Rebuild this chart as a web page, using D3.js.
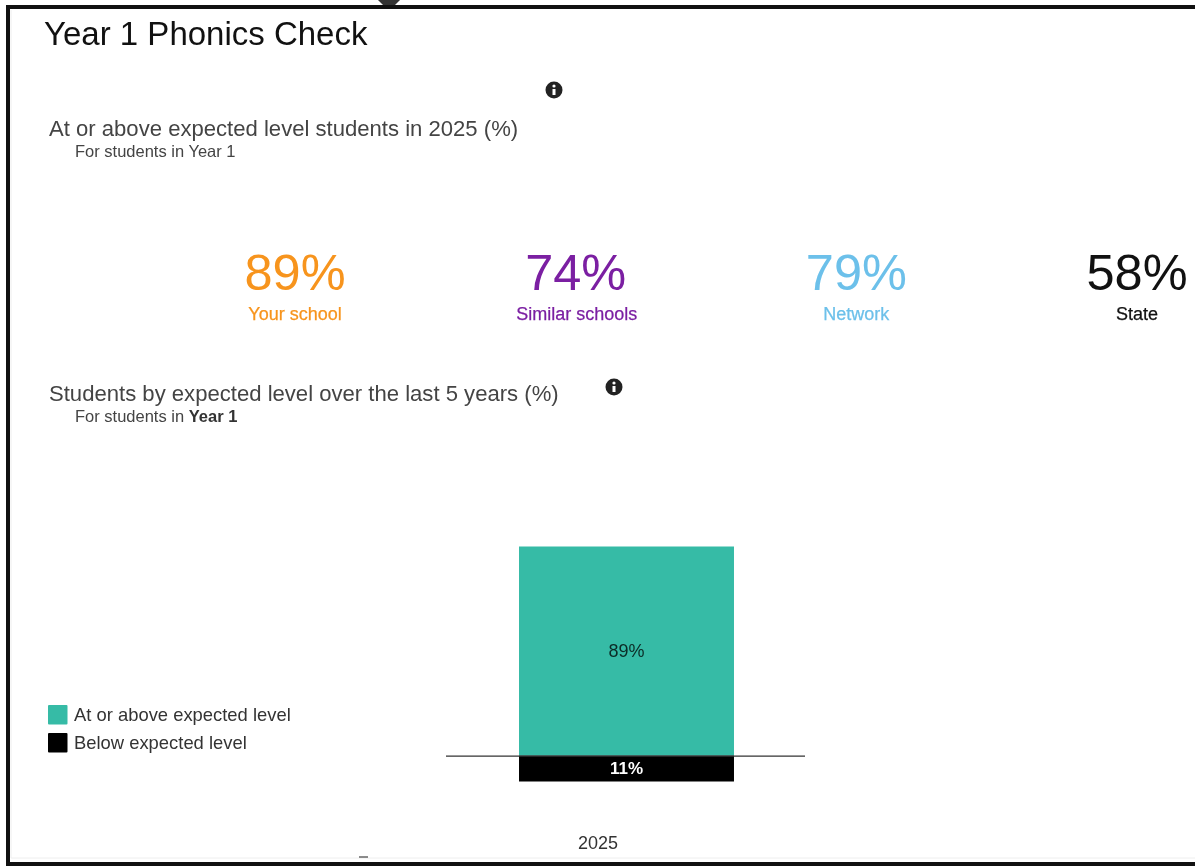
<!DOCTYPE html>
<html><head><meta charset="utf-8">
<script src="https://cdn.jsdelivr.net/npm/d3@7/dist/d3.min.js"></script>
<style>
html,body{margin:0;padding:0;background:#fff;overflow:hidden}
svg{display:block;filter:blur(0.55px)}
text{font-family:"Liberation Sans",Arial,sans-serif}
</style></head><body>
<svg id="chart" width="1195" height="867"></svg>
<script>
const kpiLabels = ["Your school","Similar schools","Network","State"];
const kpiValues = [89,74,79,58];
const kpiColors = ["#f7941d","#7b1fa2","#6cc0ea","#111111"];
const years = ["2025"];
const above = [89];
const below = [11];
const seriesNames = ["At or above expected level","Below expected level"];
const seriesColors = ["#36bba6","#000000"];

const svg = d3.select("#chart");
const txt = (x,y,s,size,fill,anchor="start",weight=null)=>svg.append("text")
  .attr("x",x).attr("y",y).attr("font-size",size).attr("fill",fill)
  .attr("text-anchor",anchor).attr("font-weight",weight).text(s);

// screenshot frame
svg.append("path").attr("d","M1195,7H8V864H1195").attr("fill","none").attr("stroke","#111").attr("stroke-width",4);
svg.append("path").attr("d","M11,10V858H1195").attr("fill","none").attr("stroke","#eee").attr("stroke-width",1);
svg.append("path").attr("d","M378,0 L383,5 L395,5 L400,0Z").attr("fill","#333");
svg.append("path").attr("d","M359,857H368").attr("stroke","#666").attr("stroke-width",1.5);

txt(44,45,"Year 1 Phonics Check",33,"#111");

function infoIcon(cx,cy){
  svg.append("circle").attr("cx",cx).attr("cy",cy).attr("r",8.5).attr("fill","#222");
  svg.append("circle").attr("cx",cx).attr("cy",cy-4).attr("r",1.6).attr("fill","#fff");
  svg.append("rect").attr("x",cx-1.5).attr("y",cy-1).attr("width",3).attr("height",6).attr("fill","#fff");
}
infoIcon(554,90);
infoIcon(614,387);

txt(49,136,"At or above expected level students in 2025 (%)",22.1,"#444");
txt(75,157,"For students in Year 1",16.5,"#444");

// KPI row
const kpiX = d3.scalePoint().domain(kpiLabels).range([295,1137]);
const kpi = svg.append("g").selectAll("g").data(kpiLabels).join("g")
  .attr("transform",d=>`translate(${kpiX(d)},0)`);
kpi.append("text").attr("y",290).attr("text-anchor","middle").attr("font-size",50.5)
  .attr("fill",(d,i)=>kpiColors[i]).text((d,i)=>kpiValues[i]+"%");
kpi.append("text").attr("x",(d,i)=>i===1?1:0).attr("y",320).attr("text-anchor","middle").attr("font-size",18)
  .attr("fill",(d,i)=>kpiColors[i]).attr("stroke",(d,i)=>kpiColors[i]).attr("stroke-width",0.25).text(d=>d);

txt(49,401,"Students by expected level over the last 5 years (%)",22.1,"#444");
const sub = txt(75,422,"For students in ",16.5,"#444");
sub.append("tspan").attr("font-weight","bold").attr("fill","#333").text("Year 1");

// stacked bar, below-expected drawn under the baseline
const y = d3.scaleLinear().domain([-11,89]).range([781.5,546.5]);
const x = d3.scaleBand().domain(years).range([447,806]).paddingInner(0).paddingOuter(0.335);
const g = svg.append("g");
g.selectAll("rect.above").data(years).join("rect").attr("class","above")
  .attr("x",d=>x(d)).attr("width",x.bandwidth())
  .attr("y",(d,i)=>y(above[i])).attr("height",(d,i)=>y(0)-y(above[i]))
  .attr("fill",seriesColors[0]);
g.selectAll("rect.below").data(years).join("rect").attr("class","below")
  .attr("x",d=>x(d)).attr("width",x.bandwidth())
  .attr("y",y(0)).attr("height",(d,i)=>y(-below[i])-y(0))
  .attr("fill",seriesColors[1]);
g.selectAll("text.a").data(years).join("text").attr("class","a")
  .attr("x",d=>x(d)+x.bandwidth()/2).attr("y",(d,i)=>y(above[i]/2)+6)
  .attr("text-anchor","middle").attr("font-size",18).attr("fill","#0b2b26")
  .text((d,i)=>above[i]+"%");
g.selectAll("text.b").data(years).join("text").attr("class","b")
  .attr("x",d=>x(d)+x.bandwidth()/2).attr("y",(d,i)=>y(-below[i]/2)+5.5)
  .attr("text-anchor","middle").attr("font-size",17).attr("font-weight","bold").attr("fill","#fff")
  .text((d,i)=>below[i]+"%");
g.append("line").attr("x1",446).attr("x2",805).attr("y1",y(0)+0.5).attr("y2",y(0)+0.5)
  .attr("stroke","#333").attr("stroke-width",1.3);
txt(598,849,years[0],18,"#333","middle");

// legend
const leg = svg.append("g").selectAll("g").data(seriesNames).join("g")
  .attr("transform",(d,i)=>`translate(48,${705+i*28})`);
leg.append("rect").attr("width",19.5).attr("height",19.5).attr("rx",1).attr("fill",(d,i)=>seriesColors[i]);
leg.append("text").attr("x",26).attr("y",16).attr("font-size",18.4).attr("fill","#333").text(d=>d);
</script>
</body></html>
